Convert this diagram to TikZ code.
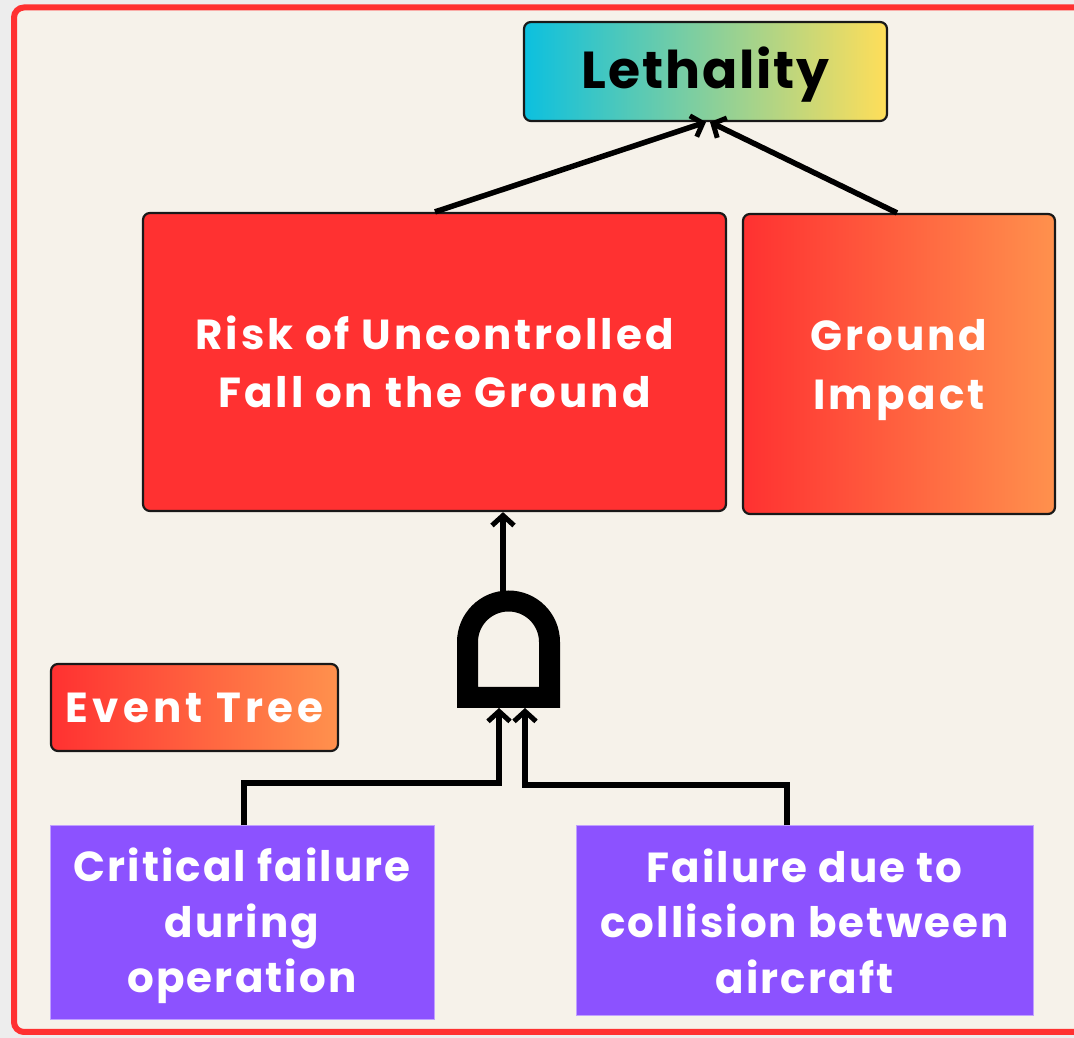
\documentclass[tikz,border=0pt]{standalone}
\usepackage{fontspec}
\setmainfont{Poppins}
\newfontfamily\fLeth{Poppins}[LetterSpace=3.5]
\newfontfamily\fGround{Poppins}[LetterSpace=7]
\newfontfamily\fEvent{Poppins}[LetterSpace=10]
\newfontfamily\fPurp{Poppins}[LetterSpace=5]
\newcommand\movedlines[3]{\raisebox{#1}[\height][\depth]{\parbox{#2}{\centering #3}}}
\usetikzlibrary{arrows.meta}
\definecolor{cRed}{HTML}{FF3131}
\definecolor{cOrange}{HTML}{FF914D}
\definecolor{cCyan}{HTML}{0CC0DF}
\definecolor{cYellow}{HTML}{FFDE59}
\definecolor{cPurple}{HTML}{8C52FF}
\definecolor{cCream}{HTML}{F6F2EA}
\definecolor{cOut}{HTML}{EDEDED}
\tikzset{
  box/.style={draw=black!90, line width=2.2pt, rounded corners=7pt, inner sep=0pt, align=center, text=white},
  gradbox/.style={box, left color=cRed, right color=cOrange},
  purplebox/.style={fill=cPurple, draw=cPurple!55!white, line width=1pt, inner sep=0pt, align=center, text=white, font=\fPurp\bfseries\fontsize{42}{55.5}\selectfont},
  conn/.style={line width=5.5pt, black},
  arr/.style={conn, -{Straight Barb[length=10pt,width=22pt,line width=5pt]}},
}
\begin{document}
\begin{tikzpicture}[x=1pt,y=1pt]
\useasboundingbox (0,0) rectangle (1074,1038);
\fill[cOut] (0,0) rectangle (1074,1038);
\draw[cRed, line width=6pt, fill=cCream, rounded corners=10pt] (14,6) rectangle (1090,1030.5);

\node[box, text=black, left color=cCyan, right color=cYellow, minimum width=363pt, minimum height=99pt, font=\fLeth\bfseries\fontsize{52}{57}\selectfont] (leth) at (705.5,966.5) {\raisebox{-3pt}[\height][\depth]{Lethality}};
\node[box, fill=cRed, minimum width=583pt, minimum height=298pt, font=\fGround\bfseries\fontsize{42}{58}\selectfont] (risk) at (434.5,676) {Risk of Uncontrolled\\Fall on the Ground};
\node[gradbox, minimum width=312pt, minimum height=300pt, font=\fGround\bfseries\fontsize{42}{59}\selectfont] (ground) at (899,674) {\movedlines{-6pt}{300pt}{Ground\\Impact}};
\node[gradbox, minimum width=287pt, minimum height=87pt, font=\fEvent\bfseries\fontsize{42}{57}\selectfont] (event) at (194.5,330.5) {Event Tree};
\node[purplebox, minimum width=384pt, minimum height=194pt] (crit) at (242,115) {\movedlines{-3pt}{380pt}{Critical failure\\during\\operation}};
\node[purplebox, minimum width=457pt, minimum height=190pt] (coll) at (804.5,117) {Failure due to\\collision between\\aircraft};

% AND gate
\fill[black, even odd rule]
  (457,330) -- (457,396) arc[start angle=180, end angle=0, radius=51.5] -- (560,330) -- cycle
  (478,351) -- (478,396) arc[start angle=180, end angle=0, radius=30.5] -- (539,351) -- cycle;
\coordinate (gtop) at (503,447);
\coordinate (gin1) at (499,330);
\coordinate (gin2) at (525,330);

\draw[arr] (gtop) -- (gtop |- risk.south);
\draw[arr] (crit.north -| 244,0) |- (499,255) -- (gin1);
\draw[arr] (coll.north -| 787,0) |- (525,253) -- (gin2);
\draw[arr] (risk.north -| 435,0) -- ([xshift=0.5pt]leth.south);
\draw[arr] (ground.north -| 897,0) -- ([xshift=4.5pt]leth.south);
\end{tikzpicture}
\end{document}
